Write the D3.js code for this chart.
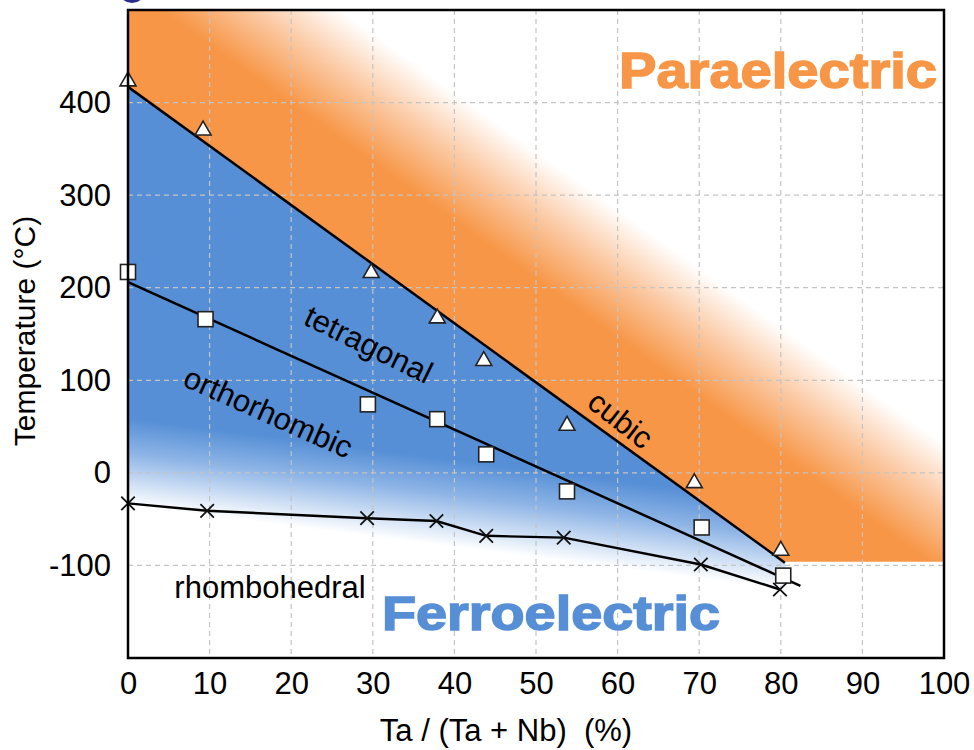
<!DOCTYPE html>
<html>
<head>
<meta charset="utf-8">
<script src="https://cdn.jsdelivr.net/npm/d3@7"></script>
<style>
body { margin: 0; background: #fff; }
text { font-family: "Liberation Sans", Arial, sans-serif; }
</style>
</head>
<body>
<svg id="chart" width="974" height="750"></svg>
<script>
// transition points (Ta fraction %, temperature C)
const cubicX = [0, 9.2, 29.8, 37.9, 43.6, 53.8, 69.4, 80];
const cubicT = [423, 370, 216, 167, 121, 51, -11, -84];
const tetraX = [0, 9.5, 29.4, 37.9, 43.9, 53.8, 70.3, 80.3];
const tetraT = [217, 166, 74, 58, 20, -20, -59, -111];
const rhombX = [0, 9.7, 29.3, 37.8, 43.9, 53.4, 70.2, 79.9];
const rhombT = [-33, -41, -49, -52, -68, -70, -99, -126];

// drawn boundaries
const cubicLineX = [0, 80.5];
const cubicLineT = [417, -97];
const orthoLineX = [0, 82.4];
const orthoLineT = [206, -122];

// shaded regions
const paraX = [0, 0, 80.5, 100, 100];
const paraT = [500, 417, -96, -96, 500];
const ferroX = [0, 80.5, 81, 0];
const ferroT = [417, -97, -135, -65];

const xTicks = [0, 10, 20, 30, 40, 50, 60, 70, 80, 90, 100];
const yTicks = [-100, 0, 100, 200, 300, 400];

const margin = {top: 10, left: 128};
const width = 816, height = 648;

const svg = d3.select("#chart");
const x = d3.scaleLinear().domain([0, 100]).range([0, width]);
const y = d3.scaleLinear().domain([-200, 500]).range([height, 0]);

const zip = (a, b) => a.map((v, i) => [v, b[i]]);

// the cut-off badge at the top
svg.append("circle").attr("cx", 132).attr("cy", -11).attr("r", 14).attr("fill", "#2b2d8c");

const defs = svg.append("defs");
defs.append("clipPath").attr("id", "plotClip")
    .append("rect").attr("width", width).attr("height", height);

// fade of the paraelectric field, across the cubic boundary direction
const orangeGrad = defs.append("linearGradient").attr("id", "orangeGrad")
    .attr("gradientUnits", "userSpaceOnUse")
    .attr("x1", 300 - margin.left).attr("y1", 110 - margin.top)
    .attr("x2", 361 - margin.left).attr("y2", 25 - margin.top);
orangeGrad.append("stop").attr("offset", 0).attr("stop-color", "#f79646");
orangeGrad.append("stop").attr("offset", 0.5).attr("stop-color", "#fbc7a0");
orangeGrad.append("stop").attr("offset", 1).attr("stop-color", "#ffffff");

const blueGrad = defs.append("linearGradient").attr("id", "blueGrad")
    .attr("gradientUnits", "userSpaceOnUse")
    .attr("x1", 0).attr("y1", 418 - margin.top)
    .attr("x2", -11).attr("y2", 504 - margin.top);
blueGrad.append("stop").attr("offset", 0).attr("stop-color", "#568fd6");
blueGrad.append("stop").attr("offset", 0.4).attr("stop-color", "#8db4e6");
blueGrad.append("stop").attr("offset", 1).attr("stop-color", "#ffffff");

const g = svg.append("g").attr("transform", `translate(${margin.left},${margin.top})`);
const plot = g.append("g").attr("clip-path", "url(#plotClip)");

const area = d3.line().x(d => x(d[0])).y(d => y(d[1]));

plot.append("path")
    .attr("d", area(zip(paraX, paraT)) + "Z")
    .attr("fill", "url(#orangeGrad)");
plot.append("path")
    .attr("d", area(zip(ferroX, ferroT)) + "Z")
    .attr("fill", "url(#blueGrad)");

// dashed grid
plot.selectAll(".vgrid").data(xTicks.slice(1, -1)).enter()
    .append("line").attr("class", "vgrid")
    .attr("x1", d => x(d)).attr("x2", d => x(d))
    .attr("y1", 0).attr("y2", height)
    .attr("stroke", "#c4c4c4").attr("stroke-width", 1.2).attr("stroke-dasharray", "5,4");
plot.selectAll(".hgrid").data(yTicks).enter()
    .append("line").attr("class", "hgrid")
    .attr("x1", 0).attr("x2", width)
    .attr("y1", d => y(d)).attr("y2", d => y(d))
    .attr("stroke", "#c4c4c4").attr("stroke-width", 1.2).attr("stroke-dasharray", "5,4");

// boundary lines
plot.append("path").attr("d", area(zip(cubicLineX, cubicLineT)))
    .attr("fill", "none").attr("stroke", "#000").attr("stroke-width", 2.5);
plot.append("path").attr("d", area(zip(orthoLineX, orthoLineT)))
    .attr("fill", "none").attr("stroke", "#000").attr("stroke-width", 2.5);
plot.append("path").attr("d", area(zip(rhombX, rhombT)))
    .attr("fill", "none").attr("stroke", "#000").attr("stroke-width", 2.4);

// markers
const tri = d3.symbol().type(d3.symbolTriangle).size(110);
g.selectAll(".tri").data(zip(cubicX, cubicT)).enter()
    .append("path").attr("class", "tri")
    .attr("d", tri)
    .attr("transform", d => `translate(${x(d[0])},${y(d[1])})`)
    .attr("fill", "#fff").attr("stroke", "#222").attr("stroke-width", 1.6);

g.selectAll(".sq").data(zip(tetraX, tetraT)).enter()
    .append("rect").attr("class", "sq")
    .attr("x", d => x(d[0]) - 7.5).attr("y", d => y(d[1]) - 7.5)
    .attr("width", 15).attr("height", 15)
    .attr("fill", "#fff").attr("stroke", "#222").attr("stroke-width", 1.6);

const cross = d3.symbol().type(d3.symbolX).size(120);
g.selectAll(".cross").data(zip(rhombX, rhombT)).enter()
    .append("path").attr("class", "cross")
    .attr("d", cross)
    .attr("transform", d => `translate(${x(d[0])},${y(d[1])})`)
    .attr("fill", "none").attr("stroke", "#111").attr("stroke-width", 1.8);

// phase labels
function phaseLabel(txt, px, py, angle) {
    svg.append("text")
        .attr("transform", `translate(${px},${py}) rotate(${angle})`)
        .attr("text-anchor", "middle")
        .attr("font-size", 31)
        .attr("fill", "#000")
        .text(txt);
}
phaseLabel("tetragonal", 364, 354, 26);
phaseLabel("orthorhombic", 264, 422, 24);
phaseLabel("cubic", 614, 428, 38);
phaseLabel("rhombohedral", 270, 598, 0);

svg.append("text")
    .attr("x", 619).attr("y", 88)
    .attr("font-size", 50).attr("font-weight", "bold")
    .attr("fill", "#f79646").attr("stroke", "#f79646").attr("stroke-width", 1.5)
    .attr("textLength", 318).attr("lengthAdjust", "spacingAndGlyphs")
    .text("Paraelectric");
svg.append("text")
    .attr("x", 382).attr("y", 630)
    .attr("font-size", 48).attr("font-weight", "bold")
    .attr("fill", "#568fd6").attr("stroke", "#568fd6").attr("stroke-width", 1.5)
    .attr("textLength", 338).attr("lengthAdjust", "spacingAndGlyphs")
    .text("Ferroelectric");

// axes
const xAxis = g.append("g").attr("transform", `translate(0,${height})`)
    .call(d3.axisBottom(x).tickValues(xTicks).tickSize(0).tickPadding(14));
const yAxis = g.append("g")
    .call(d3.axisLeft(y).tickValues(yTicks).tickSize(0).tickPadding(17)
        .tickFormat(d => String(d)));
[xAxis, yAxis].forEach(a => {
    a.select(".domain").remove();
    a.selectAll(".tick text")
        .attr("font-size", 31)
        .attr("font-family", "'Liberation Sans', Arial, sans-serif")
        .attr("fill", "#000");
});

g.append("rect").attr("width", width).attr("height", height)
    .attr("fill", "none").attr("stroke", "#000").attr("stroke-width", 2.5);

svg.append("text")
    .attr("x", 506).attr("y", 741)
    .attr("text-anchor", "middle").attr("font-size", 31)
    .attr("xml:space", "preserve")
    .text("Ta / (Ta + Nb)  (%)");
svg.append("text")
    .attr("transform", "translate(35,331) rotate(-90)")
    .attr("text-anchor", "middle").attr("font-size", 30)
    .text("Temperature (\u00B0C)");
</script>
</body>
</html>
